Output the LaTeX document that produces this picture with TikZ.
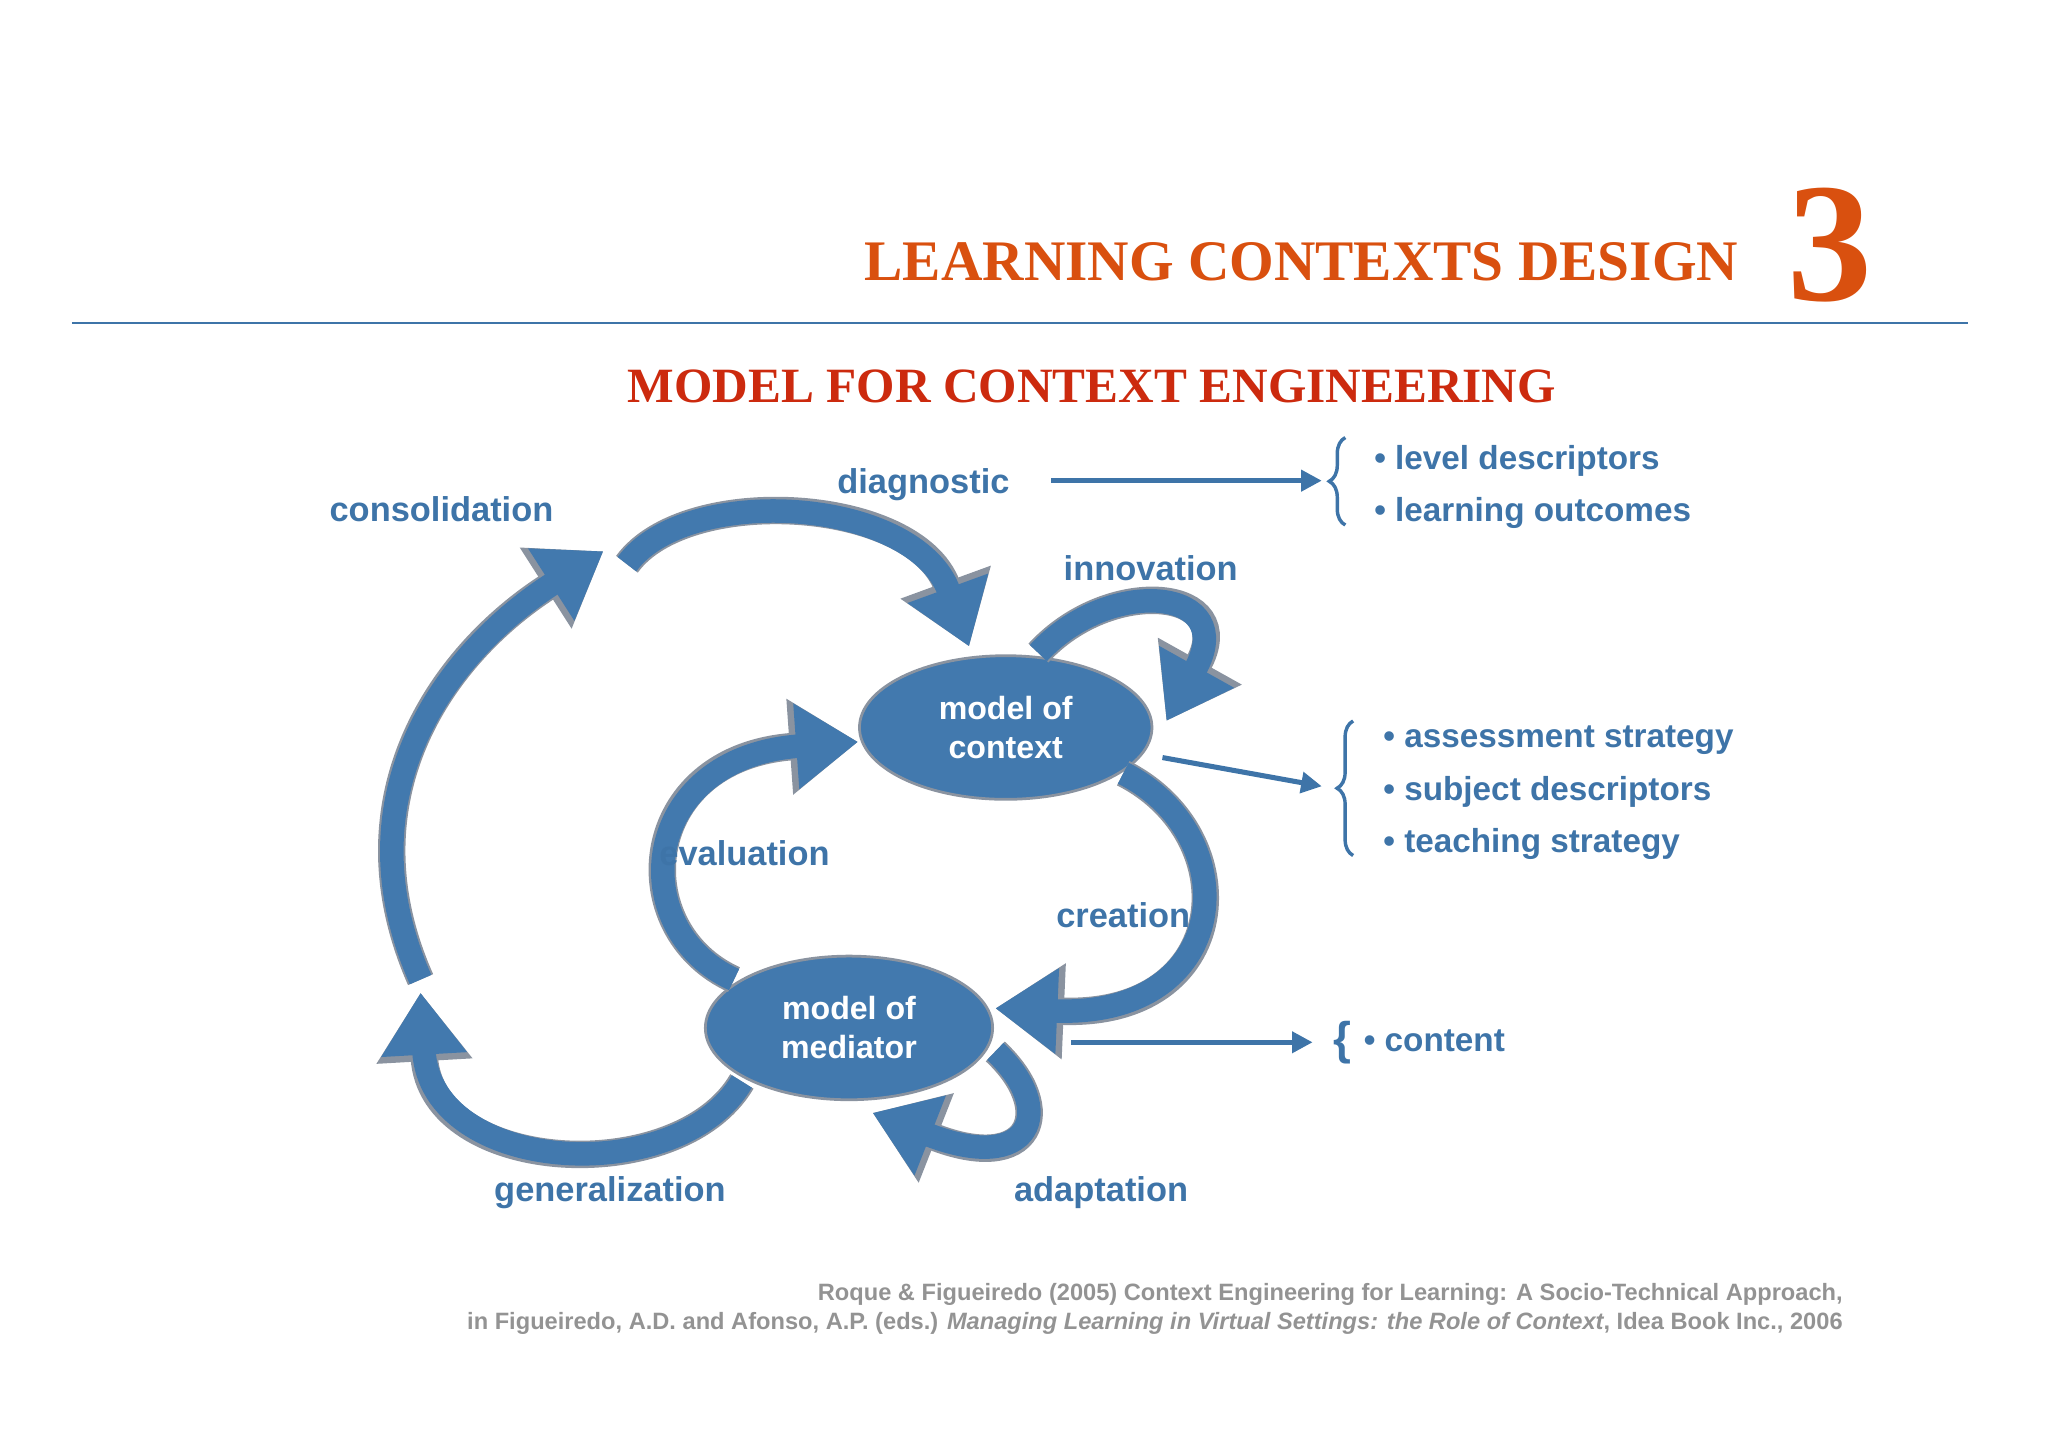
\documentclass[tikz,border=0pt]{standalone}
\usepackage{fontspec}
\setmainfont{Liberation Serif}
\newfontfamily\sansf{Liberation Sans}
\usetikzlibrary{arrows.meta,decorations.pathreplacing,shapes.geometric}
\definecolor{ablue}{HTML}{4279AE}
\definecolor{tblue}{HTML}{3E74A8}
\definecolor{orng}{HTML}{D9500F}
\definecolor{dred}{HTML}{CC2A0E}
\definecolor{edge}{HTML}{8A93A0}
\begin{document}
\begin{tikzpicture}[x=0.02cm,y=-0.02cm,
  lbl/.style={font=\sansf\bfseries\fontsize{15}{17}\selectfont,text=tblue},
  bul/.style={font=\sansf\bfseries\fontsize{14.5}{17}\selectfont,text=tblue,anchor=west},
  big/.style={line width=0.36cm,draw=ablue,-{Triangle[length=0.95cm,width=1.25cm]},
    preaction={draw=edge,line width=0.42cm,-{Triangle[length=1.05cm,width=1.4cm]}}},
  thin/.style={line width=2.2pt,draw=tblue,-{Triangle[length=9pt,width=9pt]}},
  ell/.style={ellipse,fill=ablue,draw=edge,line width=1.2pt,text=white,align=center,font=\sansf\bfseries\fontsize{14}{17}\selectfont},
  brace/.style={draw=tblue,line width=1.5pt,decorate,decoration={brace,amplitude=7pt}}]
\useasboundingbox (0,0) rectangle (1568,1108);
% header
\node[anchor=base east,font=\bfseries\fontsize{25}{28}\selectfont,text=orng] (t1) at (1337,215) {LEARNING CONTEXTS DESIGN};
\node[anchor=base west,font=\bfseries\fontsize{74}{80}\selectfont,text=orng] (t3) at (1362,230) {3};
\coordinate (l1) at (55,247); \coordinate (l2) at (1507,247);
\draw[tblue,line width=0.8pt] (l1) -- (l2);
\node[anchor=base,font=\bfseries\fontsize{21.5}{24}\selectfont,text=dred] (sub) at (836,308) {MODEL FOR CONTEXT ENGINEERING};
% ellipses
\node[ell,minimum width=4.48cm,minimum height=2.2cm] (ctx) at (770,557) {model of\\context};
\node[ell,minimum width=4.4cm,minimum height=2.2cm] (med) at (650,787) {model of\\mediator};
% big arrows
\coordinate (d0) at (480,432); \coordinate (d1) at (742,495);
\draw[big] (d0) .. controls (525,370) and (700,380) .. (d1);
\coordinate (c0) at (322,750); \coordinate (c1) at (462,422);
\draw[big] (c0) .. controls (260,610) and (340,500) .. (c1);
\coordinate (g0) at (568,828); \coordinate (g1) at (322,760);
\draw[big] (g0) .. controls (520,910) and (330,900) .. (g1);
\coordinate (e0) at (562,750); \coordinate (e1) at (657,568);
\draw[big] (e0) .. controls (478,712) and (488,580) .. (e1);
\coordinate (i0) at (795,500); \coordinate (i1) at (893,552);
\draw[big] (i0) .. controls (850,440) and (950,450) .. (i1);
\coordinate (r0) at (860,592); \coordinate (r1) at (762,772);
\draw[big] (r0) .. controls (955,640) and (945,780) .. (r1);
\coordinate (a0) at (762,805); \coordinate (a1) at (668,852);
\draw[big] (a0) .. controls (810,850) and (790,900) .. (a1);
% labels
\node[lbl] (lcon) at (338,390) {consolidation};
\node[lbl] (ldia) at (707,371) {diagnostic};
\node[lbl] (linn) at (881,435) {innovation};
\node[lbl] (leva) at (570,653) {evaluation};
\node[lbl] (lcre) at (860,701) {creation};
\node[lbl] (lgen) at (467,913) {generalization};
\node[lbl] (lada) at (843,913) {adaptation};
% thin arrows
\coordinate (s1a) at (805,368); \coordinate (s1b) at (1012,368);
\draw[thin] (s1a) -- (s1b);
\coordinate (s2a) at (890,580); \coordinate (s2b) at (1012,602);
\draw[thin] (s2a) -- (s2b);
\coordinate (s3a) at (820,798); \coordinate (s3b) at (1005,798);
\draw[thin] (s3a) -- (s3b);
% braces
\coordinate (b1a) at (1030,335); \coordinate (b1b) at (1030,402);
\draw[brace] (b1b) -- (b1a);
\coordinate (b2a) at (1036,552); \coordinate (b2b) at (1036,655);
\draw[brace] (b2b) -- (b2a);
\node[font=\sansf\bfseries\fontsize{20}{22}\selectfont,text=tblue] (b3) at (1028,798) {\{};
% bullet lists
\node[bul] (p1) at (1046,353) {• level descriptors};
\node[bul] (p2) at (1046,393) {• learning outcomes};
\node[bul] (p3) at (1053,567) {• assessment strategy};
\node[bul] (p4) at (1053,606) {• subject descriptors};
\node[bul] (p5) at (1053,646) {• teaching strategy};
\node[bul] (p6) at (1038,797) {• content};
% footer
\node[anchor=base east,font=\sansf\bfseries\fontsize{10.3}{12}\selectfont,text=gray!85] (f1) at (1417,996) {Roque \& Figueiredo (2005) Context Engineering for Learning: A Socio-Technical Approach,};
\node[anchor=base east,font=\sansf\bfseries\fontsize{10.3}{12}\selectfont,text=gray!85] (f2) at (1417,1018) {in Figueiredo, A.D. and Afonso, A.P. (eds.) \textit{Managing Learning in Virtual Settings: the Role of Context}, Idea Book Inc., 2006};
\end{tikzpicture}
\end{document}
